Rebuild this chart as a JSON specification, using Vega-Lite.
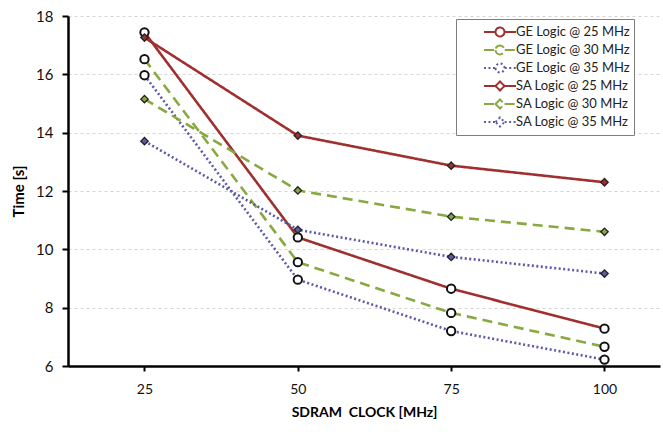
{
  "$schema": "https://vega.github.io/schema/vega-lite/v6.json",
  "width": 592,
  "height": 350,
  "autosize": {"type": "none"},
  "padding": {"left": 68, "top": 16, "right": 3, "bottom": 66},
  "background": "white",
  "config": {
    "font": "Lato",
    "view": {"stroke": null},
    "axis": {"labelFont": "Lato", "titleFont": "Lato", "labelColor": "#111", "titleColor": "#000"},
    "legend": {
      "orient": "none",
      "legendX": 388,
      "legendY": 3,
      "fillColor": "white",
      "strokeColor": "#7f7f7f",
      "strokeWidth": 1,
      "padding": 4,
      "labelFont": "Lato",
      "labelFontSize": 13,
      "labelColor": "#222",
      "symbolSize": 256,
      "symbolStrokeWidth": 2,
      "rowPadding": -0.3,
      "labelOffset": 38,
      "title": null
    }
  },
  "data": {
    "values": [
      {"clock": 25, "time": 17.44, "series": "GE Logic @ 25 MHz", "logic": "GE"},
      {"clock": 50, "time": 10.41, "series": "GE Logic @ 25 MHz", "logic": "GE"},
      {"clock": 75, "time": 8.65, "series": "GE Logic @ 25 MHz", "logic": "GE"},
      {"clock": 100, "time": 7.28, "series": "GE Logic @ 25 MHz", "logic": "GE"},
      {"clock": 25, "time": 16.52, "series": "GE Logic @ 30 MHz", "logic": "GE"},
      {"clock": 50, "time": 9.56, "series": "GE Logic @ 30 MHz", "logic": "GE"},
      {"clock": 75, "time": 7.82, "series": "GE Logic @ 30 MHz", "logic": "GE"},
      {"clock": 100, "time": 6.66, "series": "GE Logic @ 30 MHz", "logic": "GE"},
      {"clock": 25, "time": 15.97, "series": "GE Logic @ 35 MHz", "logic": "GE"},
      {"clock": 50, "time": 8.96, "series": "GE Logic @ 35 MHz", "logic": "GE"},
      {"clock": 75, "time": 7.2, "series": "GE Logic @ 35 MHz", "logic": "GE"},
      {"clock": 100, "time": 6.22, "series": "GE Logic @ 35 MHz", "logic": "GE"},
      {"clock": 25, "time": 17.26, "series": "SA Logic @ 25 MHz", "logic": "SA"},
      {"clock": 50, "time": 13.9, "series": "SA Logic @ 25 MHz", "logic": "SA"},
      {"clock": 75, "time": 12.87, "series": "SA Logic @ 25 MHz", "logic": "SA"},
      {"clock": 100, "time": 12.3, "series": "SA Logic @ 25 MHz", "logic": "SA"},
      {"clock": 25, "time": 15.15, "series": "SA Logic @ 30 MHz", "logic": "SA"},
      {"clock": 50, "time": 12.02, "series": "SA Logic @ 30 MHz", "logic": "SA"},
      {"clock": 75, "time": 11.12, "series": "SA Logic @ 30 MHz", "logic": "SA"},
      {"clock": 100, "time": 10.6, "series": "SA Logic @ 30 MHz", "logic": "SA"},
      {"clock": 25, "time": 13.71, "series": "SA Logic @ 35 MHz", "logic": "SA"},
      {"clock": 50, "time": 10.67, "series": "SA Logic @ 35 MHz", "logic": "SA"},
      {"clock": 75, "time": 9.74, "series": "SA Logic @ 35 MHz", "logic": "SA"},
      {"clock": 100, "time": 9.17, "series": "SA Logic @ 35 MHz", "logic": "SA"}
    ]
  },
  "encoding": {
    "x": {
      "field": "clock",
      "type": "quantitative",
      "scale": {"domain": [12.53, 109.05], "nice": false, "zero": false},
      "axis": {
        "values": [25, 50, 75, 100],
        "grid": false,
        "domainColor": "#000",
        "domainWidth": 2.5,
        "tickColor": "#000",
        "tickWidth": 2,
        "tickSize": 5,
        "labelFontSize": 14,
        "labelPadding": 11,
        "title": "SDRAM\u00a0 CLOCK [MHz]",
        "titleFontSize": 14,
        "titleFontWeight": "bold",
        "titlePadding": 9
      }
    },
    "y": {
      "field": "time",
      "type": "quantitative",
      "scale": {"domain": [6, 18], "nice": false, "zero": false},
      "axis": {
        "values": [6, 8, 10, 12, 14, 16, 18],
        "grid": true,
        "gridColor": "#d4d4d4",
        "gridDash": [3, 3],
        "gridWidth": 1,
        "domainColor": "#000",
        "domainWidth": 2.5,
        "tickColor": "#000",
        "tickWidth": 2,
        "tickSize": 6,
        "labelFontSize": 15,
        "labelPadding": 9,
        "title": "Time [s]",
        "titleFontSize": 15,
        "titleFontWeight": "bold",
        "titlePadding": 9
      }
    }
  },
  "resolve": {"legend": {"color": "independent", "strokeDash": "independent", "shape": "independent"}},
  "layer": [
    {
      "mark": {"type": "line", "strokeWidth": 2.6},
      "encoding": {
        "color": {
          "field": "series",
          "type": "nominal",
          "scale": {
            "domain": ["GE Logic @ 25 MHz", "GE Logic @ 30 MHz", "GE Logic @ 35 MHz", "SA Logic @ 25 MHz", "SA Logic @ 30 MHz", "SA Logic @ 35 MHz"],
            "range": ["#a0302f", "#88a840", "#5d5aa6", "#a0302f", "#88a840", "#5d5aa6"]
          },
          "legend": null
        },
        "strokeDash": {
          "field": "series",
          "type": "nominal",
          "scale": {
            "domain": ["GE Logic @ 25 MHz", "GE Logic @ 30 MHz", "GE Logic @ 35 MHz", "SA Logic @ 25 MHz", "SA Logic @ 30 MHz", "SA Logic @ 35 MHz"],
            "range": [[1, 0], [10, 6], [2, 2.5], [1, 0], [10, 6], [2, 2.5]]
          },
          "legend": null
        }
      }
    },
    {
      "transform": [{"filter": "datum.logic == 'GE'"}],
      "mark": {"type": "point", "shape": "circle", "filled": true, "fill": "white", "stroke": "#111", "strokeWidth": 2, "size": 70, "opacity": 1}
    },
    {
      "transform": [{"filter": "datum.logic == 'SA'"}],
      "mark": {"type": "point", "shape": "diamond", "filled": true, "stroke": "#222", "strokeWidth": 1.3, "size": 55, "opacity": 1},
      "encoding": {
        "color": {"field": "series", "type": "nominal", "legend": null}
      }
    },
    {
      "transform": [{"filter": "false"}],
      "mark": {"type": "point", "filled": false, "strokeWidth": 2, "opacity": 1},
      "encoding": {
        "color": {"field": "series", "type": "nominal", "legend": {}},
        "strokeDash": {"field": "series", "type": "nominal", "legend": {}},
        "shape": {
          "field": "series",
          "type": "nominal",
          "legend": {},
          "scale": {
            "domain": ["GE Logic @ 25 MHz", "GE Logic @ 30 MHz", "GE Logic @ 35 MHz", "SA Logic @ 25 MHz", "SA Logic @ 30 MHz", "SA Logic @ 35 MHz"],
            "range": [
              "M1.875,0H3.28M4.47,0H5.875M3.315,0A0.56,0.56,0,1,0,4.435,0A0.56,0.56,0,1,0,3.315,0",
              "M1.875,0H3.28M4.47,0H5.875M3.315,0A0.56,0.56,0,1,0,4.435,0A0.56,0.56,0,1,0,3.315,0",
              "M1.875,0H3.28M4.47,0H5.875M3.315,0A0.56,0.56,0,1,0,4.435,0A0.56,0.56,0,1,0,3.315,0",
              "M1.875,0H3.3M4.45,0H5.875M3.315,0L3.875,-0.56L4.435,0L3.875,0.56Z",
              "M1.875,0H3.3M4.45,0H5.875M3.315,0L3.875,-0.56L4.435,0L3.875,0.56Z",
              "M1.875,0H3.3M4.45,0H5.875M3.315,0L3.875,-0.56L4.435,0L3.875,0.56Z"
            ]
          }
        }
      }
    }
  ]
}
